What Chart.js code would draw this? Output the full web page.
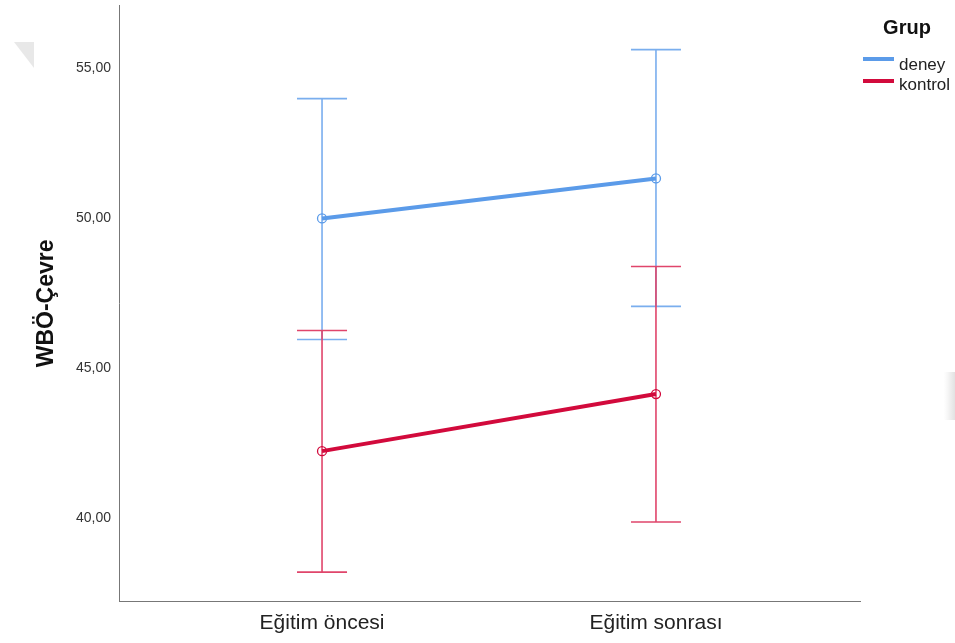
<!DOCTYPE html>
<html>
<head>
<meta charset="utf-8">
<script src="https://cdn.jsdelivr.net/npm/chart.js@4"></script>
<style>
  html, body { margin: 0; padding: 0; background: #fff; }
  #wrap { width: 955px; height: 643px; position: relative; }
</style>
</head>
<body>
<div id="wrap"><canvas id="chart" width="955" height="643"></canvas></div>
<script>
// categories and groups
const categories = ['Eğitim öncesi', 'Eğitim sonrası'];
const groups = ['deney', 'kontrol'];

// means and 95% CI bounds
const deneyMean = [49.98, 51.31];
const deneyLow = [45.95, 47.05];
const deneyHigh = [53.97, 55.60];
const kontrolMean = [42.23, 44.13];
const kontrolLow = [38.20, 39.87];
const kontrolHigh = [46.25, 48.38];

const yTicks = [40, 45, 50, 55];

const FONT = '"Liberation Sans", Arial, sans-serif';
const blue = '#5b9be9';
const blueBar = '#7aaeee';
const red = '#d20a3c';
const redBar = '#e0456b';

function toPoints(arr) {
    return arr.map((v, i) => ({ x: i, y: v }));
}

// draws the error bars from the low/high arrays with the chart scales, plus the legend
const errorBars = {
    id: 'errorBars',
    beforeDatasetsDraw(chart) {
        const { ctx, scales: { x, y } } = chart;
        const sets = [
            { low: deneyLow, high: deneyHigh, color: blueBar },
            { low: kontrolLow, high: kontrolHigh, color: redBar }
        ];
        ctx.save();
        ctx.lineWidth = 1.6;
        sets.forEach(s => {
            ctx.strokeStyle = s.color;
            s.low.forEach((lo, i) => {
                const px = x.getPixelForValue(i);
                const top = y.getPixelForValue(s.high[i]);
                const bot = y.getPixelForValue(lo);
                ctx.beginPath();
                ctx.moveTo(px, top); ctx.lineTo(px, bot);
                ctx.moveTo(px - 25, top); ctx.lineTo(px + 25, top);
                ctx.moveTo(px - 25, bot); ctx.lineTo(px + 25, bot);
                ctx.stroke();
            });
        });
        ctx.restore();
    },
    afterDraw(chart) {
        const { ctx } = chart;
        ctx.save();
        // faint scan marks of the original
        ctx.fillStyle = 'rgba(190,190,190,0.35)';
        ctx.beginPath();
        ctx.moveTo(14, 42); ctx.lineTo(34, 42); ctx.lineTo(34, 68);
        ctx.closePath();
        ctx.fill();
        const g = ctx.createLinearGradient(944, 0, 955, 0);
        g.addColorStop(0, 'rgba(230,230,230,0)');
        g.addColorStop(1, 'rgba(225,225,225,1)');
        ctx.fillStyle = g;
        ctx.fillRect(944, 372, 11, 48);

        // legend
        ctx.fillStyle = '#111';
        ctx.font = 'bold 20px ' + FONT;
        ctx.textAlign = 'center';
        ctx.textBaseline = 'middle';
        ctx.fillText('Grup', 907, 28);
        const colors = [blue, red];
        const lineY = [59, 81];
        const textY = [70, 90];
        ctx.font = '17px ' + FONT;
        ctx.textAlign = 'left';
        ctx.textBaseline = 'alphabetic';
        groups.forEach((grp, i) => {
            ctx.strokeStyle = colors[i];
            ctx.lineWidth = 4;
            ctx.beginPath();
            ctx.moveTo(863, lineY[i]); ctx.lineTo(894, lineY[i]);
            ctx.stroke();
            ctx.fillStyle = '#222';
            ctx.fillText(grp, 899, textY[i]);
        });
        ctx.restore();
    }
};

new Chart(document.getElementById('chart'), {
    type: 'line',
    data: {
        datasets: [
            {
                label: groups[0],
                data: toPoints(deneyMean),
                borderColor: blue,
                backgroundColor: 'rgba(0,0,0,0)',
                borderWidth: 4,
                pointRadius: 4.5,
                pointBorderWidth: 1.3,
                pointBorderColor: blue,
                pointBackgroundColor: 'rgba(255,255,255,0)'
            },
            {
                label: groups[1],
                data: toPoints(kontrolMean),
                borderColor: red,
                backgroundColor: 'rgba(0,0,0,0)',
                borderWidth: 4,
                pointRadius: 4.5,
                pointBorderWidth: 1.3,
                pointBorderColor: red,
                pointBackgroundColor: 'rgba(255,255,255,0)'
            }
        ]
    },
    options: {
        responsive: false,
        animation: false,
        layout: { padding: { top: 5, right: 95, left: 0, bottom: 0 } },
        plugins: { legend: { display: false }, tooltip: { enabled: false } },
        scales: {
            x: {
                type: 'linear',
                min: -0.608,
                max: 1.611,
                afterBuildTicks: s => { s.ticks = categories.map((c, i) => ({ value: i })); },
                afterFit: s => { s.height = 42; },
                grid: { display: false, drawTicks: false },
                border: { color: '#777', width: 1 },
                ticks: {
                    callback: v => categories[v],
                    color: '#222',
                    font: { family: FONT, size: 21 },
                    padding: 10,
                    maxRotation: 0
                }
            },
            y: {
                min: 37.24,
                max: 57.06,
                afterBuildTicks: s => { s.ticks = yTicks.map(v => ({ value: v })); },
                afterFit: s => { s.width = 119; s.paddingTop = 0; s.paddingBottom = 0; },
                grid: { display: false, drawTicks: false },
                border: { color: '#777', width: 1 },
                ticks: {
                    callback: v => v.toFixed(2).replace('.', ','),
                    color: '#333',
                    font: { family: FONT, size: 14 },
                    padding: 8
                },
                title: {
                    display: true,
                    text: 'WBÖ-Çevre',
                    color: '#111',
                    font: { family: FONT, size: 23, weight: 'bold' },
                    padding: { top: 33, bottom: 0 }
                }
            }
        }
    },
    plugins: [errorBars]
});
</script>
</body>
</html>
